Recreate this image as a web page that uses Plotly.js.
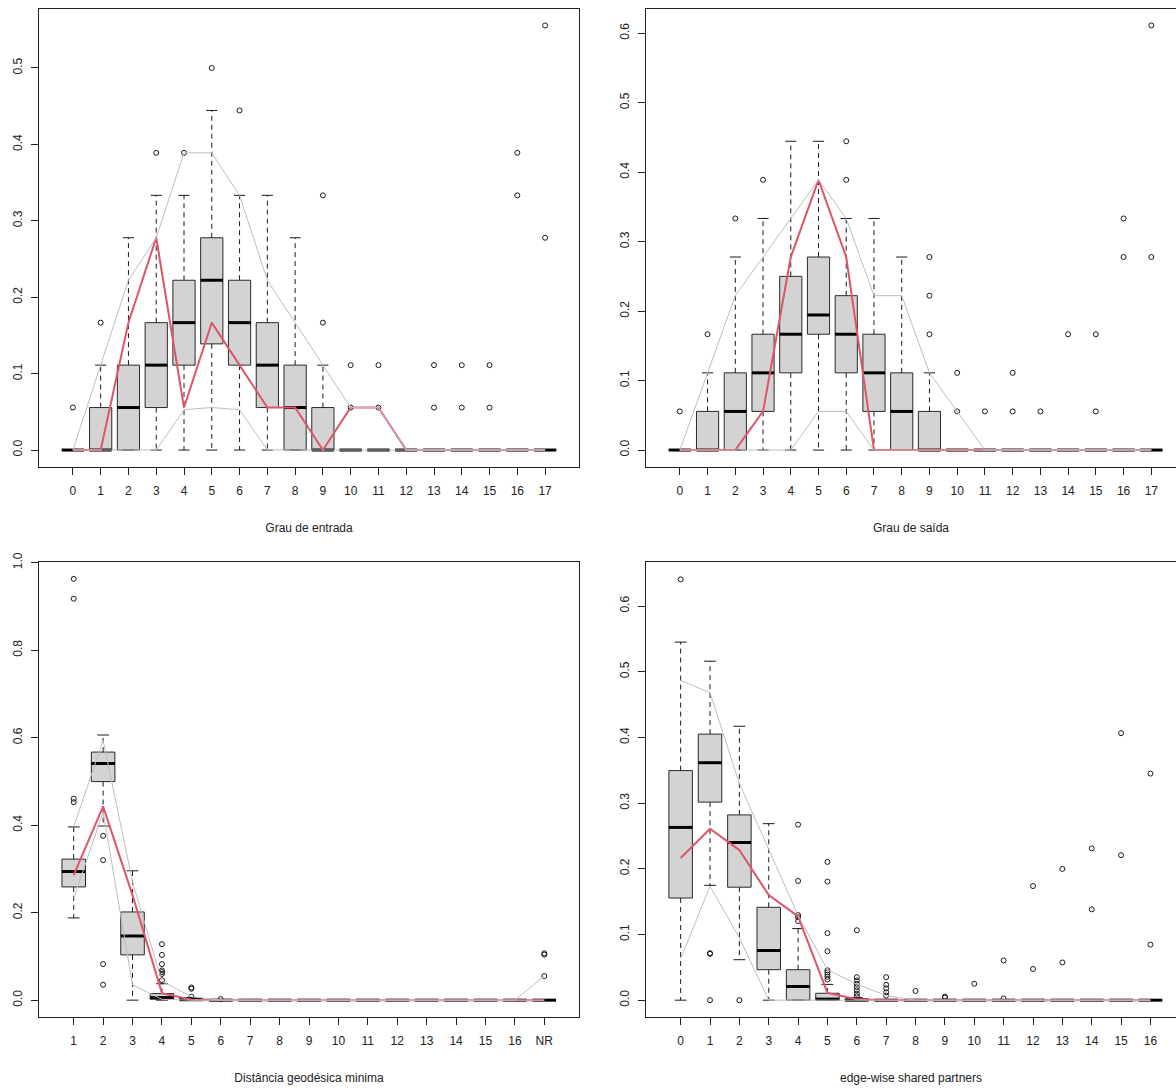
<!DOCTYPE html>
<html><head><meta charset="utf-8">
<script src="https://cdn.plot.ly/plotly-3.0.1.min.js"></script>
<style>html,body{margin:0;padding:0;background:#fff;}</style>
</head><body><div id="chart" style="width:1176px;height:1091px;"></div>
<script>
// ---------- Panel 1: Grau de entrada ----------
const inX = [0,1,2,3,4,5,6,7,8,9,10,11,12,13,14,15,16,17];
const inLabels = ['0','1','2','3','4','5','6','7','8','9','10','11','12','13','14','15','16','17'];
const inQ1  = [0,0,0,0.0556,0.1111,0.1389,0.1111,0.0556,0,0,0,0,0,0,0,0,0,0];
const inMed = [0,0,0.0556,0.1111,0.1667,0.2222,0.1667,0.1111,0.0556,0,0,0,0,0,0,0,0,0];
const inQ3  = [0,0.0556,0.1111,0.1667,0.2222,0.2778,0.2222,0.1667,0.1111,0.0556,0,0,0,0,0,0,0,0];
const inLo  = [0,0,0,0,0,0,0,0,0,0,0,0,0,0,0,0,0,0];
const inHi  = [0,0.1111,0.2778,0.3333,0.3333,0.4444,0.3333,0.3333,0.2778,0.1111,0,0,0,0,0,0,0,0];
const inOut = [[0.0556],[0.1667],[],[0.3889],[0.3889],[0.5],[0.4444],[],[],[0.1667,0.3333],[0.0556,0.1111],[0.0556,0.1111],[],[0.0556,0.1111],[0.0556,0.1111],[0.0556,0.1111],[0.3333,0.3889],[0.2778,0.5556]];
const inUpper = [0,0.1111,0.2222,0.2778,0.3889,0.3889,0.3333,0.2222,0.1667,0.1111,0.0556,0.0556,0,0,0,0,0,0];
const inLower = [0,0,0,0,0.0528,0.0556,0.0528,0,0,0,0,0,0,0,0,0,0,0];
const inObs   = [0,0,0.1667,0.2778,0.0556,0.1667,0.1111,0.0556,0.0556,0,0.0556,0.0556,0,0,0,0,0,0];

// ---------- Panel 2: Grau de saída ----------
const outX = [0,1,2,3,4,5,6,7,8,9,10,11,12,13,14,15,16,17];
const outLabels = ['0','1','2','3','4','5','6','7','8','9','10','11','12','13','14','15','16','17'];
const outQ1  = [0,0,0,0.0556,0.1111,0.1667,0.1111,0.0556,0,0,0,0,0,0,0,0,0,0];
const outMed = [0,0,0.0556,0.1111,0.1667,0.1944,0.1667,0.1111,0.0556,0,0,0,0,0,0,0,0,0];
const outQ3  = [0,0.0556,0.1111,0.1667,0.25,0.2778,0.2222,0.1667,0.1111,0.0556,0,0,0,0,0,0,0,0];
const outLo  = [0,0,0,0,0,0,0,0,0,0,0,0,0,0,0,0,0,0];
const outHi  = [0,0.1111,0.2778,0.3333,0.4444,0.4444,0.3333,0.3333,0.2778,0.1111,0,0,0,0,0,0,0,0];
const outOut = [[0.0556],[0.1667],[0.3333],[0.3889],[],[],[0.3889,0.4444],[],[],[0.1667,0.2222,0.2778],[0.0556,0.1111],[0.0556],[0.0556,0.1111],[0.0556],[0.1667],[0.0556,0.1667],[0.2778,0.3333],[0.2778,0.6111]];
const outUpper = [0,0.1111,0.2222,0.2778,0.3333,0.3889,0.3333,0.2222,0.2222,0.1111,0.0556,0,0,0,0,0,0,0];
const outLower = [0,0,0,0,0,0.0556,0.0556,0,0,0,0,0,0,0,0,0,0,0];
const outObs   = [0,0,0,0.0556,0.2778,0.3889,0.2778,0,0,0,0,0,0,0,0,0,0,0];

// ---------- Panel 3: Distância geodésica minima ----------
const geoX = [1,2,3,4,5,6,7,8,9,10,11,12,13,14,15,16,17];
const geoLabels = ['1','2','3','4','5','6','7','8','9','10','11','12','13','14','15','16','NR'];
const geoQ1  = [0.2588,0.4996,0.1035,0.002,0,0,0,0,0,0,0,0,0,0,0,0,0];
const geoMed = [0.294,0.541,0.1467,0.006,0.001,0,0,0,0,0,0,0,0,0,0,0,0];
const geoQ3  = [0.3224,0.567,0.2016,0.015,0.004,0,0,0,0,0,0,0,0,0,0,0,0];
const geoLo  = [0.188,0.398,0,0,0,0,0,0,0,0,0,0,0,0,0,0,0];
const geoHi  = [0.396,0.606,0.2957,0.0376,0.006,0,0,0,0,0,0,0,0,0,0,0,0];
const geoOut = [[0.4525,0.4604,0.9176,0.963],[0.3757,0.32,0.0824,0.0353],[],[0.128,0.1035,0.0824,0.068,0.064,0.06,0.0455],[0.008,0.026,0.029],[0.0024],[],[],[],[],[],[],[],[],[],[],[0.055,0.104,0.107]];
const geoUpper = [0.396,0.594,0.27,0.043,0.008,0,0,0,0,0,0,0,0,0,0,0,0.055];
const geoLower = [0.233,0.43,0.035,0.002,0,0,0,0,0,0,0,0,0,0,0,0,0];
const geoObs   = [0.286,0.443,0.24,0.016,0.001,0,0,0,0,0,0,0,0,0,0,0,0];

// ---------- Panel 4: edge-wise shared partners ----------
const espX = [0,1,2,3,4,5,6,7,8,9,10,11,12,13,14,15,16];
const espLabels = ['0','1','2','3','4','5','6','7','8','9','10','11','12','13','14','15','16'];
const espQ1  = [0.1555,0.3015,0.172,0.0464,0,0,0,0,0,0,0,0,0,0,0,0,0];
const espMed = [0.263,0.3615,0.24,0.0756,0.0208,0.0016,0,0,0,0,0,0,0,0,0,0,0];
const espQ3  = [0.3495,0.405,0.282,0.1414,0.0464,0.0105,0.002,0,0,0,0,0,0,0,0,0,0];
const espLo  = [0,0.1748,0.0616,0,0,0,0,0,0,0,0,0,0,0,0,0,0];
const espHi  = [0.545,0.516,0.417,0.2687,0.109,0.024,0.004,0,0,0,0,0,0,0,0,0,0];
const espOut = [[0.6406],[0.0715,0.0705,0],[0],[],[0.1205,0.1265,0.1295,0.1815,0.2672],[0.2105,0.1805,0.102,0.0745,0.0455,0.0425,0.039,0.0355,0.0315],[0.1065,0.035,0.03,0.025,0.02,0.015,0.01,0.006],[0.035,0.0235,0.018,0.012,0.007],[0.014],[0.0055,0.004],[0.025],[0.0605,0.0026],[0.1737,0.0475],[0.1998,0.0574],[0.2311,0.1383],[0.4064,0.2207],[0.3449,0.0845]];
const espUpper = [0.4867,0.468,0.33,0.23,0.129,0.0465,0.0245,0.007,0,0,0,0,0,0,0,0,0];
const espLower = [0.0626,0.1735,0.095,0,0,0,0,0,0,0,0,0,0,0,0,0,0];
const espObs   = [0.2165,0.261,0.2285,0.16,0.1275,0.011,0.0015,0,0,0,0,0,0,0,0,0,0];

// ---------- build traces ----------
const BOXW = 0.4, CAPW = 0.2;
function panelTraces(xs, q1, med, q3, lo, hi, outs, upper, lower, obs, xa, ya) {
  const bx=[], by=[], wx=[], wy=[], cx=[], cy=[], mx=[], my=[], ox=[], oy=[];
  xs.forEach((x,i)=>{
    bx.push(x-BOXW,x+BOXW,x+BOXW,x-BOXW,x-BOXW,null);
    by.push(q1[i],q1[i],q3[i],q3[i],q1[i],null);
    if (hi[i] > q3[i]) { wx.push(x,x,null); wy.push(q3[i],hi[i],null); }
    if (lo[i] < q1[i]) { wx.push(x,x,null); wy.push(q1[i],lo[i],null); }
    cx.push(x-CAPW,x+CAPW,null,x-CAPW,x+CAPW,null);
    cy.push(hi[i],hi[i],null,lo[i],lo[i],null);
    mx.push(x-BOXW,x+BOXW,null); my.push(med[i],med[i],null);
    outs[i].forEach(v=>{ox.push(x); oy.push(v);});
  });
  const base = {xaxis:xa, yaxis:ya, hoverinfo:'skip', showlegend:false};
  return [
    Object.assign({type:'scatter', mode:'lines', x:bx, y:by, fill:'toself', fillcolor:'#D3D3D3', line:{color:'#2a2a2a', width:1}}, base),
    Object.assign({type:'scatter', mode:'lines', x:wx, y:wy, line:{color:'#1a1a1a', width:1, dash:'5px,4px'}}, base),
    Object.assign({type:'scatter', mode:'lines', x:cx, y:cy, line:{color:'#1a1a1a', width:1}}, base),
    Object.assign({type:'scatter', mode:'lines', x:mx, y:my, line:{color:'#000', width:3}}, base),
    Object.assign({type:'scatter', mode:'markers', x:ox, y:oy, marker:{symbol:'circle-open', size:5, color:'#1a1a1a', line:{width:1, color:'#1a1a1a'}}}, base),
    Object.assign({type:'scatter', mode:'lines', x:xs, y:obs, line:{color:'#DF536B', width:2}}, base),
    Object.assign({type:'scatter', mode:'lines', x:xs, y:upper, line:{color:'#BEBEBE', width:1}}, base),
    Object.assign({type:'scatter', mode:'lines', x:xs, y:lower, line:{color:'#BEBEBE', width:1}}, base)
  ];
}

const data = [].concat(
  panelTraces(inX, inQ1, inMed, inQ3, inLo, inHi, inOut, inUpper, inLower, inObs, 'x', 'y'),
  panelTraces(outX, outQ1, outMed, outQ3, outLo, outHi, outOut, outUpper, outLower, outObs, 'x2', 'y2'),
  panelTraces(geoX, geoQ1, geoMed, geoQ3, geoLo, geoHi, geoOut, geoUpper, geoLower, geoObs, 'x3', 'y3'),
  panelTraces(espX, espQ1, espMed, espQ3, espLo, espHi, espOut, espUpper, espLower, espObs, 'x4', 'y4')
);

const W = 1176, H = 1091;
const font = {family:'"Liberation Sans", Arial, sans-serif', size:12, color:'#222'};
function xAx(dom, range, vals, text, title, anchor) {
  return {domain:dom, range:range, anchor:anchor, tickmode:'array', tickvals:vals, ticktext:text,
    ticks:'outside', ticklen:7, tickwidth:1, tickcolor:'#222', showline:true, linecolor:'#222', linewidth:1,
    mirror:true, showgrid:false, zeroline:false, tickfont:font, ticklabelstandoff:6,
    title:{text:title, font:font, standoff:26}};
}
function yAx(dom, range, dtick, mirror, anchor) {
  return {domain:dom, range:range, anchor:anchor, tick0:0, dtick:dtick, tickformat:'.1f', tickangle:-90,
    ticks:'outside', ticklen:7, tickwidth:1, tickcolor:'#222', showline:true, linecolor:'#222', linewidth:1,
    mirror:mirror, showgrid:false, zeroline:false, tickfont:font, ticklabelstandoff:4};
}
const leftDom = [39/W, 579/W], rightDom = [646/W, 1];
const topDom = [1-467/H, 1-8.5/H], botDom = [1-1017/H, 1-562/H];

const layout = {
  width:W, height:H, autosize:false, margin:{l:0,r:0,t:0,b:0},
  paper_bgcolor:'#fff', plot_bgcolor:'#fff', showlegend:false,
  xaxis:  xAx(leftDom,  [-1.22, 18.22], inX, inLabels, 'Grau de entrada', 'y'),
  yaxis:  yAx(topDom,   [-0.0222, 0.5778], 0.1, true, 'x'),
  xaxis2: xAx(rightDom, [-1.22, 17.89], outX, outLabels, 'Grau de saída', 'y2'),
  yaxis2: yAx(topDom,   [-0.0244, 0.6355], 0.1, false, 'x2'),
  xaxis3: xAx(leftDom,  [-0.18, 18.18], geoX, geoLabels, 'Distância geodésica minima', 'y3'),
  yaxis3: yAx(botDom,   [-0.0385, 1.0015], 0.2, true, 'x3'),
  xaxis4: xAx(rightDom, [-1.18, 16.87], espX, espLabels, 'edge-wise shared partners', 'y4'),
  yaxis4: yAx(botDom,   [-0.0256, 0.667], 0.1, false, 'x4')
};

Plotly.newPlot('chart', data, layout, {staticPlot:true, displayModeBar:false});
</script></body></html>
